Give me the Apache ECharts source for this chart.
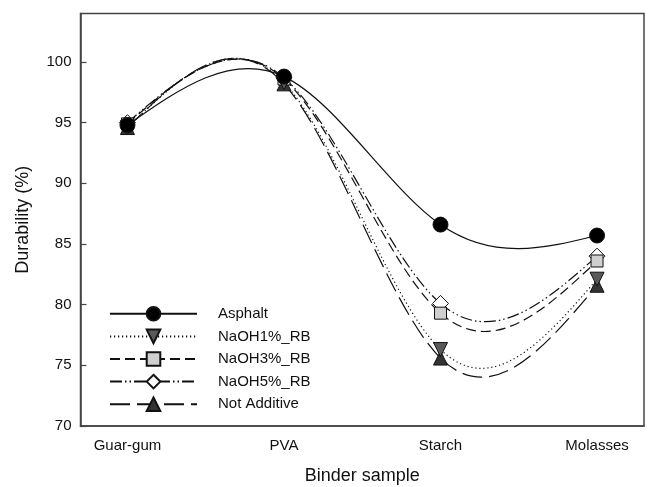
<!DOCTYPE html>
<html>
<head>
<meta charset="utf-8">
<script src="https://cdn.jsdelivr.net/npm/echarts@6/dist/echarts.min.js"></script>
<style>
html,body{margin:0;padding:0;background:#fff;}
#chart{width:648px;height:487px;}
</style>
</head>
<body>
<div id="chart"></div>
<script>
// ---- data ----
const categories = ['Guar-gum', 'PVA', 'Starch', 'Molasses'];
const seriesNames = ['Asphalt', 'NaOH1%_RB', 'NaOH3%_RB', 'NaOH5%_RB', 'Not Additive'];
const asphalt     = [94.8, 98.8, 86.6, 85.7];
const naoh1       = [94.6, 98.3, 76.3, 82.1];
const naoh3       = [94.9, 98.6, 79.3, 83.6];
const naoh5       = [95.0, 98.7, 80.1, 84.0];
const notAdditive = [94.6, 98.2, 75.6, 81.6];
const yTicks = [70, 75, 80, 85, 90, 95, 100];

const values = [asphalt, naoh1, naoh3, naoh5, notAdditive];
const styles = [
  {symbol:'circle', size:15, fill:'#000000', dash:'solid', rotate:0},
  {symbol:'triangle', size:14, fill:'#5a5a5a', dash:[1.2, 2.8], rotate:180},
  {symbol:'rect', size:12, fill:'#cfcfcf', dash:[10, 5], rotate:0},
  {symbol:'diamond', size:16, fill:'#ffffff', dash:[12, 3, 1.5, 3, 1.5, 3], rotate:0},
  {symbol:'triangle', size:14, fill:'#333333', dash:[20, 7], rotate:0}
];

// slopes of a natural cubic spline through (xs, ys) -- used only to shape the drawn curve
function splineSlopes(xs, ys) {
  const n = xs.length;
  const M = new Array(n).fill(0);
  if (n > 2) {
    const a = [], b = [], c = [], d = [];
    for (let i = 1; i < n - 1; i++) {
      const h0 = xs[i] - xs[i - 1], h1 = xs[i + 1] - xs[i];
      a.push(h0); b.push(2 * (h0 + h1)); c.push(h1);
      d.push(6 * ((ys[i + 1] - ys[i]) / h1 - (ys[i] - ys[i - 1]) / h0));
    }
    const m = b.length;
    for (let i = 1; i < m; i++) {
      const w = a[i] / b[i - 1];
      b[i] -= w * c[i - 1];
      d[i] -= w * d[i - 1];
    }
    const sol = new Array(m);
    sol[m - 1] = d[m - 1] / b[m - 1];
    for (let i = m - 2; i >= 0; i--) sol[i] = (d[i] - c[i] * sol[i + 1]) / b[i];
    for (let i = 0; i < m; i++) M[i + 1] = sol[i];
  }
  const s = [];
  for (let i = 0; i < n; i++) {
    if (i < n - 1) {
      const h = xs[i + 1] - xs[i];
      s.push((ys[i + 1] - ys[i]) / h - h * (2 * M[i] + M[i + 1]) / 6);
    } else {
      const h = xs[i] - xs[i - 1];
      s.push((ys[i] - ys[i - 1]) / h + h * (M[i - 1] + 2 * M[i]) / 6);
    }
  }
  return s;
}

const xIdx = categories.map((c, j) => j);
const series = [];
seriesNames.forEach((name, i) => {
  const ys = values[i];
  const slopes = splineSlopes(xIdx, ys);
  const st = styles[i];
  series.push({
    name: name + ' curve',
    type: 'custom',
    data: ys.map((v, j) => [j, v]),
    z: 2,
    silent: true,
    renderItem: function (params, api) {
      const j = params.dataIndex;
      if (j >= ys.length - 1) return null;
      const h = xIdx[j + 1] - xIdx[j];
      const p0 = api.coord([xIdx[j], ys[j]]);
      const p3 = api.coord([xIdx[j + 1], ys[j + 1]]);
      const p1 = api.coord([xIdx[j] + h / 3, ys[j] + slopes[j] * h / 3]);
      const p2 = api.coord([xIdx[j + 1] - h / 3, ys[j + 1] - slopes[j + 1] * h / 3]);
      return {
        type: 'bezierCurve',
        shape: {x1: p0[0], y1: p0[1], cpx1: p1[0], cpy1: p1[1], cpx2: p2[0], cpy2: p2[1], x2: p3[0], y2: p3[1]},
        style: {stroke: '#111', lineWidth: 1.2, fill: null, lineDash: st.dash === 'solid' ? null : st.dash}
      };
    }
  });
  series.push({
    name: name,
    type: 'line',
    data: ys.map((v, j) => [j, v]),
    symbol: st.symbol,
    symbolSize: st.size,
    symbolRotate: st.rotate,
    showAllSymbol: true,
    z: 10 - i,
    lineStyle: {color: '#111', width: 1.2, type: st.dash, opacity: 0},
    itemStyle: {color: st.fill, borderColor: '#111', borderWidth: 1},
    emphasis: {disabled: true}
  });
});

const chart = echarts.init(document.getElementById('chart'), null, {renderer: 'canvas'});
chart.setOption({
  animation: false,
  backgroundColor: '#ffffff',
  textStyle: {fontFamily: 'Liberation Sans, Arial, sans-serif'},
  grid: {left: 80.5, right: 4, top: 13.5, bottom: 61, show: true, borderColor: '#444', borderWidth: 1.5, containLabel: false, outerBoundsMode: 'none'},
  legend: {
    orient: 'vertical',
    left: 104,
    top: 301,
    itemWidth: 87,
    itemHeight: 17,
    itemGap: 7,
    data: seriesNames,
    lineStyle: {opacity: 1},
    textStyle: {fontSize: 15, color: '#111', fontFamily: 'Liberation Sans, Arial, sans-serif', padding: [0, 0, 0, 16], lineHeight: 15},
    inactiveColor: '#111',
    selectedMode: false
  },
  xAxis: {
    type: 'value',
    min: -0.3,
    max: 3.3,
    name: 'Binder sample',
    nameLocation: 'middle',
    nameGap: 41,
    nameTextStyle: {fontSize: 18, color: '#111', verticalAlign: 'top'},
    axisLine: {show: true, onZero: false, lineStyle: {color: '#444', width: 1.5}},
    axisTick: {show: false},
    splitLine: {show: false},
    axisLabel: {
      customValues: [0, 1, 2, 3],
      formatter: v => categories[Math.round(v)],
      fontSize: 15, color: '#111', margin: 12
    }
  },
  yAxis: {
    type: 'value',
    min: 70,
    max: 104,
    name: 'Durability (%)',
    nameLocation: 'middle',
    nameGap: 48,
    nameTextStyle: {fontSize: 18, color: '#111'},
    axisLine: {show: true, onZero: false, lineStyle: {color: '#444', width: 1.5}},
    axisTick: {show: true, inside: true, length: 6, customValues: yTicks, lineStyle: {color: '#444', width: 1.2}},
    splitLine: {show: false},
    axisLabel: {customValues: yTicks, fontSize: 15, color: '#111', margin: 9}
  },
  series: series
});
</script>
</body>
</html>
